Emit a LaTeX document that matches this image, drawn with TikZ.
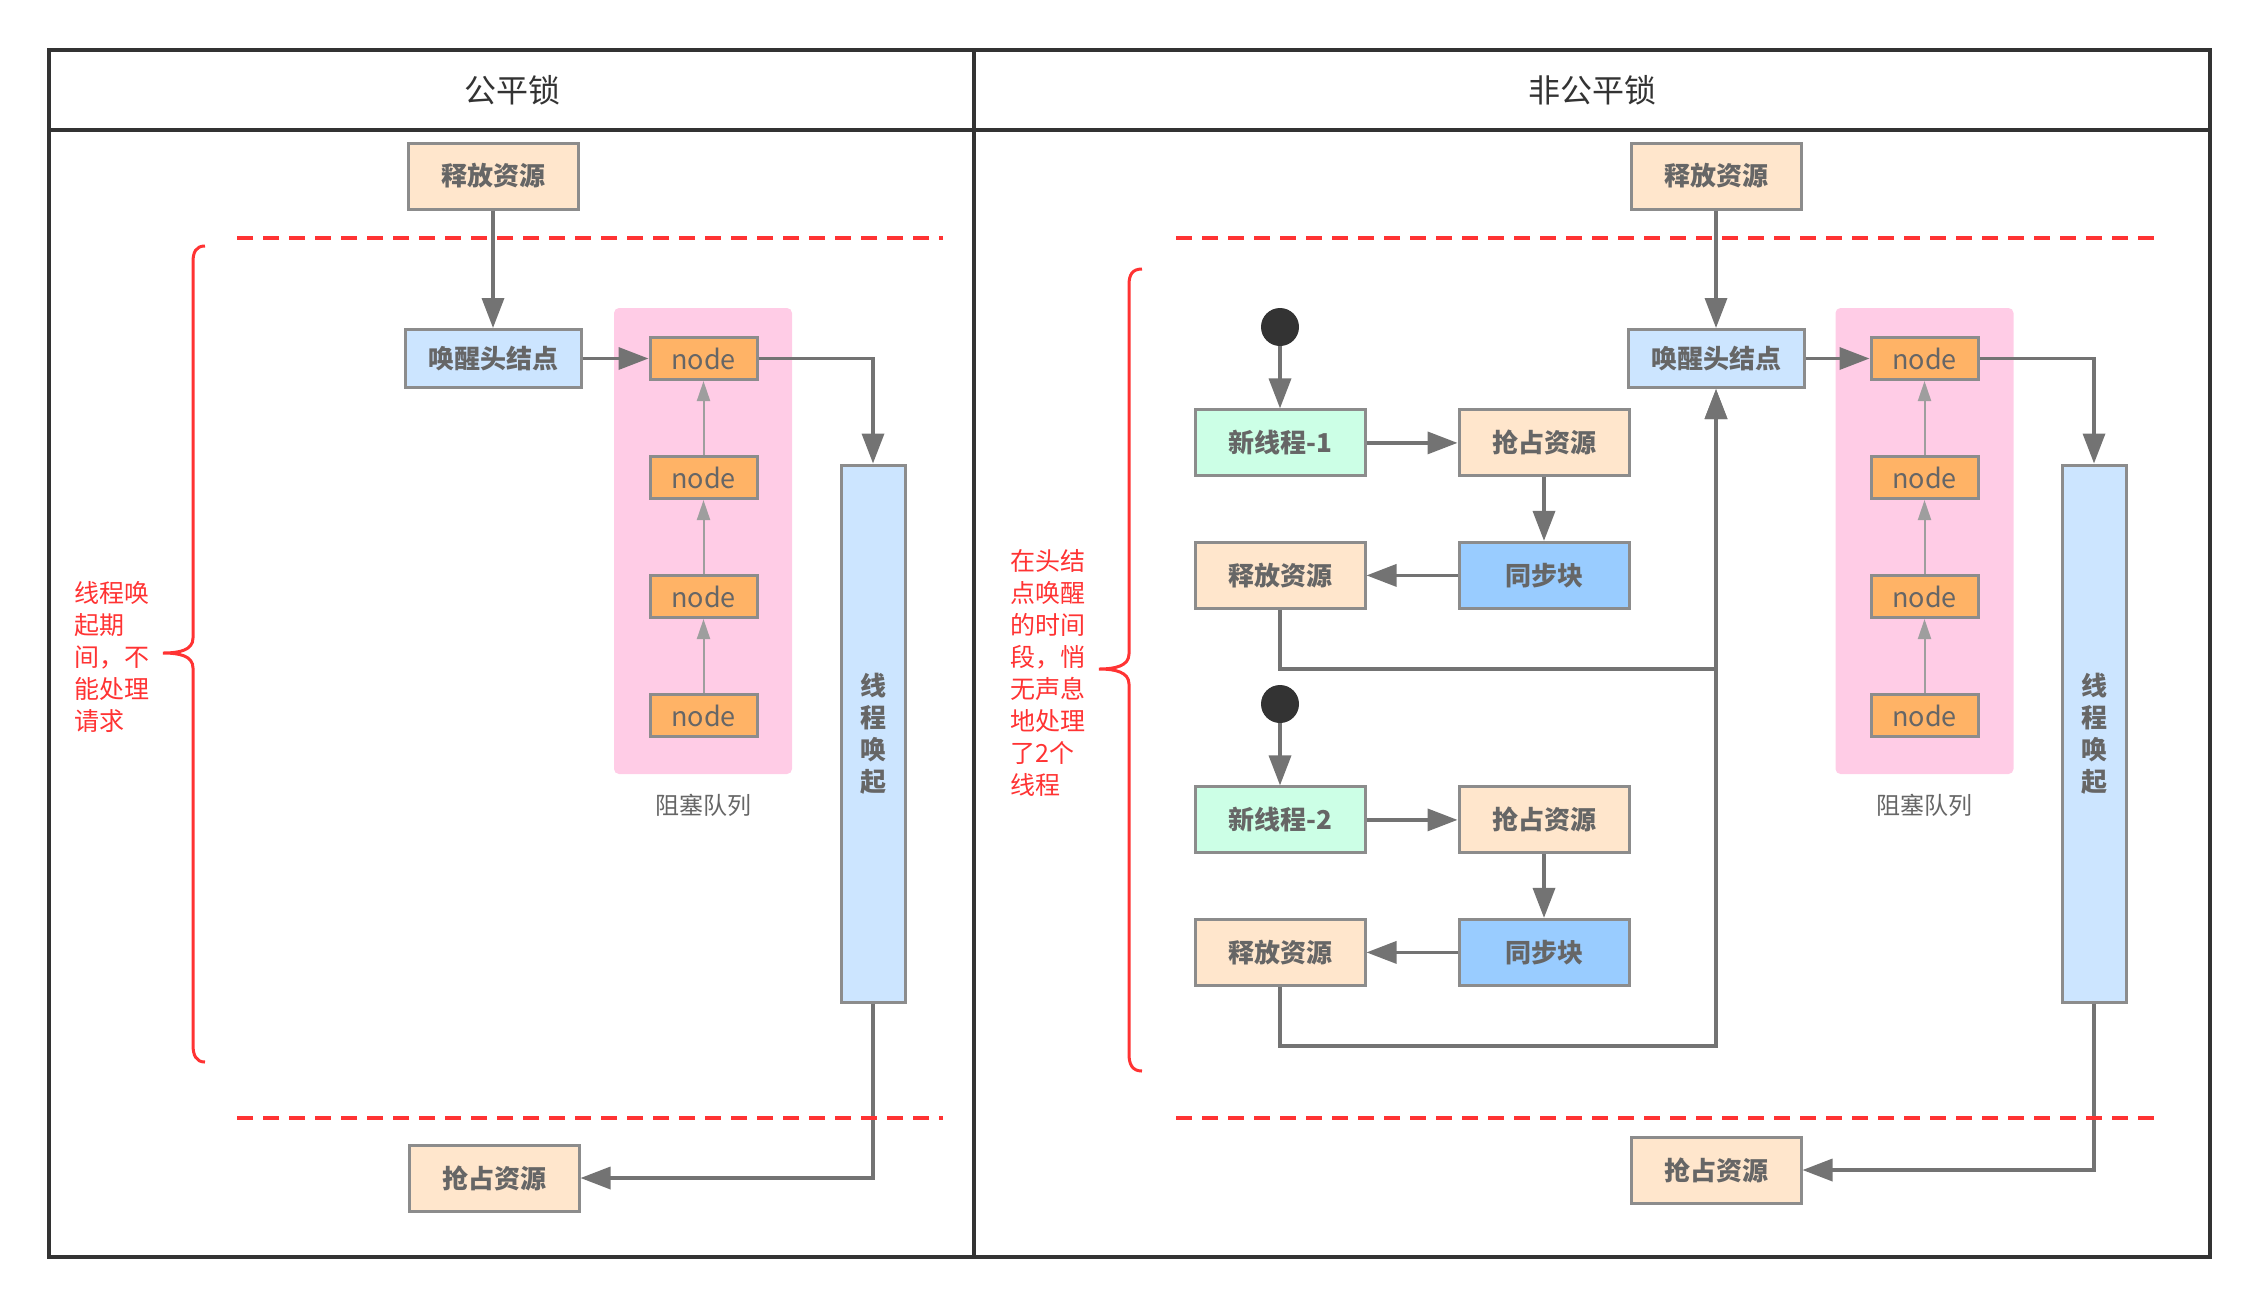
\documentclass[tikz,border=0pt]{standalone}
\usepackage{fontspec}
\setmainfont{Noto Sans CJK SC}
\usepackage{tikz}
\usetikzlibrary{positioning, arrows.meta}

\definecolor{peach}{HTML}{FFE6CC}
\definecolor{mint}{HTML}{CCFFE6}
\definecolor{paleblue}{HTML}{CCE5FF}
\definecolor{syncblue}{HTML}{99CCFF}
\definecolor{queueorange}{HTML}{FFB366}
\definecolor{queuepink}{HTML}{FFCCE6}
\definecolor{boxline}{HTML}{8C8C8C}
\definecolor{conngray}{HTML}{737373}
\definecolor{linkgray}{HTML}{9E9E9E}
\definecolor{textgray}{HTML}{666666}
\definecolor{framegray}{HTML}{333333}
\definecolor{alert}{HTML}{FF3333}

\begin{document}
\begin{tikzpicture}[
        x=0.5pt, y=-0.5pt,
        box/.style={
                rectangle,
                draw=boxline,
                line width=1.5pt,
                text=textgray,
                font=\fontsize{13}{16}\selectfont\bfseries,
                minimum width=85pt,
                minimum height=33pt,
                inner sep=0pt
            },
        res/.style = {box, fill=peach},
        newthread/.style = {box, fill=mint},
        sync/.style = {box, fill=syncblue},
        wake/.style = {box, fill=paleblue, minimum width=88pt, minimum height=29pt},
        qnode/.style = {box, fill=queueorange, minimum width=53.5pt, minimum height=21pt, font=\fontsize{13.5}{16}\selectfont},
        bar/.style = {box, fill=paleblue, minimum width=32pt, minimum height=268.5pt, align=center},
        queue/.style = {
                rectangle,
                fill=queuepink,
                rounded corners=2.5pt,
                minimum width=89pt,
                minimum height=233pt,
                label={[caption,yshift=-6.5pt]below:阻塞队列}
            },
        caption/.style = {text=textgray, font=\fontsize{12}{14}\selectfont},
        title/.style = {text=framegray, font=\fontsize{16}{19}\selectfont},
        note/.style = {text=alert, font=\fontsize{12.5}{16}\selectfont, align=left, anchor=west, inner sep=0pt},
        dot/.style = {circle, fill=framegray, minimum size=19pt, inner sep=0pt},
        frame/.style = {draw=framegray, line width=1.75pt},
        conn/.style = {draw=conngray, line width=1.75pt},
        link/.style = {draw=linkgray, line width=1pt, -{Triangle[length=10pt, width=6.5pt]}},
        cut/.style = {draw=alert, line width=2.4pt, dash pattern=on 8pt off 5pt},
        brace/.style = {draw=alert, line width=1.5pt},
        >= {Triangle[length=15pt, width=11pt]}
    ]
    \useasboundingbox (0,0) rectangle (2260,1308);

    \draw[frame] (49,50) rectangle (2210,1257);
    \draw[frame] (49,130) -- (2210,130);
    \draw[frame] (974,50) -- (974,1257);
    \node[title] (titleL) at (512,90) {公平锁};
    \node[title] (titleR) at (1592,90) {非公平锁};

    \node[res] (relTopL) at (493,176) {释放资源};
    \node[wake] (wakeL) [below=58.75pt of relTopL] {唤醒头结点};
    \node[queue] (queueL) at (703,541) {};
    \node[qnode] (n1L) [right=33pt of wakeL] {node};
    \node[qnode] (n2L) [below=37pt of n1L] {node};
    \node[qnode] (n3L) [below=37pt of n2L] {node};
    \node[qnode] (n4L) [below=37pt of n3L] {node};
    \node[bar] (barL) at (873,733.5) {线\\程\\唤\\起};
    \node[res] (grabL) at (494,1178) {抢占资源};
    \node[note] (noteL) at (74,656.5) {线程唤\\起期\\间，不\\能处理\\请求};

    \draw[conn,->] (relTopL) -- (wakeL);
    \draw[conn,->] (wakeL) -- (n1L);
    \draw[conn,->] (n1L) -| (barL);
    \draw[conn,->] (barL) |- (grabL);
    \draw[link] (n4L) -- (n3L);
    \draw[link] (n3L) -- (n2L);
    \draw[link] (n2L) -- (n1L);

    \draw[brace] (205,246) .. controls (196,246) and (193,252) .. (193,262) -- (193,638) .. controls (193,650) and (180,653) .. (163,653) .. controls (180,653) and (193,656) .. (193,668) -- (193,1045) .. controls (193,1055) and (196,1062) .. (205,1062);

    \node[res] (relTopR) at (1716,176) {释放资源};
    \node[wake] (wakeR) [below=58.75pt of relTopR] {唤醒头结点};
    \node[queue] (queueR) at (1924.5,541) {};
    \node[qnode] (n1R) [right=32pt of wakeR] {node};
    \node[qnode] (n2R) [below=37pt of n1R] {node};
    \node[qnode] (n3R) [below=37pt of n2R] {node};
    \node[qnode] (n4R) [below=37pt of n3R] {node};
    \node[bar] (barR) at (2094,733.5) {线\\程\\唤\\起};
    \node[res] (grabR) at (1716,1170) {抢占资源};
    \node[note] (noteR) at (1010,672.5) {在头结\\点唤醒\\的时间\\段，悄\\无声息\\地处理\\了2个\\线程};

    \node[dot] (dot1) at (1280,327) {};
    \node[newthread] (new1) [below=31pt of dot1] {新线程-1};
    \node[res] (grab1) [right=45.5pt of new1] {抢占资源};
    \node[sync] (sync1) [below=31.75pt of grab1] {同步块};
    \node[res] (rel1) [left=45.5pt of sync1] {释放资源};
    \node[dot] (dot2) at (1280,704) {};
    \node[newthread] (new2) [below=31pt of dot2] {新线程-2};
    \node[res] (grab2) [right=45.5pt of new2] {抢占资源};
    \node[sync] (sync2) [below=31.75pt of grab2] {同步块};
    \node[res] (rel2) [left=45.5pt of sync2] {释放资源};

    \draw[conn,->] (relTopR) -- (wakeR);
    \draw[conn,->] (wakeR) -- (n1R);
    \draw[conn,->] (n1R) -| (barR);
    \draw[conn,->] (barR) |- (grabR);
    \draw[link] (n4R) -- (n3R);
    \draw[link] (n3R) -- (n2R);
    \draw[link] (n2R) -- (n1R);
    \draw[conn,->] (dot1) -- (new1);
    \draw[conn,->] (new1) -- (grab1);
    \draw[conn,->] (grab1) -- (sync1);
    \draw[conn,->] (sync1) -- (rel1);
    \draw[conn,->] (rel1.south) -- ++(0,59) -| (wakeR);
    \draw[conn,->] (dot2) -- (new2);
    \draw[conn,->] (new2) -- (grab2);
    \draw[conn,->] (grab2) -- (sync2);
    \draw[conn,->] (sync2) -- (rel2);
    \draw[conn,->] (rel2.south) -- ++(0,59) -| (wakeR);

    \draw[brace] (1142,269) .. controls (1132,269) and (1129,275) .. (1129,285) -- (1129,654) .. controls (1129,666) and (1115,669) .. (1099,669) .. controls (1115,669) and (1129,672) .. (1129,684) -- (1129,1054) .. controls (1129,1064) and (1132,1071) .. (1142,1071);

    \draw[cut] (237,238) -- (943,238);
    \draw[cut] (237,1118) -- (943,1118);
    \draw[cut] (1176,238) -- (2154,238);
    \draw[cut] (1176,1118) -- (2154,1118);
\end{tikzpicture}
\end{document}
